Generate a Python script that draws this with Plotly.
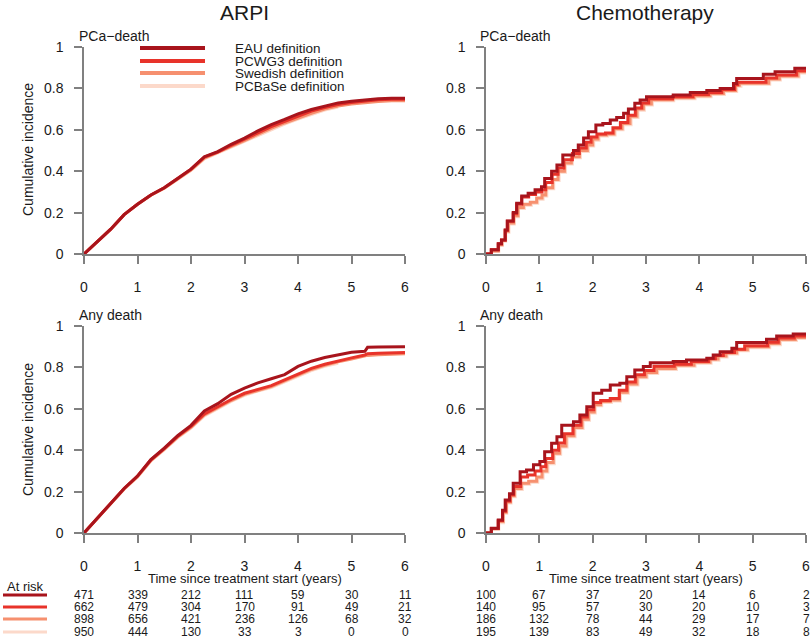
import plotly.graph_objects as go

W, H = 812, 641
FONT = "Liberation Sans"

series_names = ["EAU definition", "PCWG3 definition", "Swedish definition", "PCBaSe definition"]
series_colors = ["#A8141C", "#E8332A", "#F6906F", "#FCD9CA"]

# ---- ARPI (dense step curves, read at a grid) ----
arpi_t = [0, 0.25, 0.5, 0.75, 1, 1.25, 1.5, 1.75, 2, 2.25, 2.5, 2.75, 3, 3.25, 3.5, 3.75,
          4, 4.25, 4.5, 4.75, 5, 5.25, 5.3, 5.5, 5.75, 6]

arpi_pca_eau = [0, 0.06, 0.12, 0.19, 0.24, 0.285, 0.32, 0.365, 0.41, 0.47, 0.495, 0.53, 0.56, 0.595,
                0.625, 0.65, 0.677, 0.698, 0.715, 0.73, 0.738, 0.745, 0.746, 0.75, 0.752, 0.753]
arpi_pca_pcwg3 = [0, 0.06, 0.12, 0.19, 0.24, 0.285, 0.32, 0.365, 0.41, 0.468, 0.492, 0.525, 0.553, 0.585,
                  0.615, 0.64, 0.665, 0.69, 0.708, 0.722, 0.732, 0.74, 0.741, 0.745, 0.748, 0.748]
arpi_pca_swedish = [0, 0.06, 0.12, 0.19, 0.24, 0.284, 0.318, 0.362, 0.406, 0.463, 0.49, 0.52, 0.548, 0.578,
                    0.607, 0.633, 0.657, 0.68, 0.70, 0.715, 0.725, 0.732, 0.733, 0.737, 0.74, 0.74]
arpi_pca_pcbase = [0, 0.06, 0.12, 0.19, 0.24, 0.284, 0.318, 0.36, 0.404, 0.46, 0.488, 0.517, 0.545, 0.575,
                   0.603, 0.628, 0.652, 0.675, 0.695, 0.71]

arpi_any_eau = [0, 0.07, 0.145, 0.215, 0.275, 0.355, 0.41, 0.47, 0.52, 0.59, 0.625, 0.67, 0.70, 0.725,
                0.745, 0.765, 0.805, 0.83, 0.848, 0.862, 0.873, 0.878, 0.897, 0.898, 0.899, 0.90]
arpi_any_pcwg3 = [0, 0.07, 0.145, 0.215, 0.275, 0.353, 0.408, 0.467, 0.515, 0.575, 0.61, 0.645, 0.675, 0.695,
                  0.712, 0.74, 0.768, 0.795, 0.815, 0.832, 0.846, 0.86, 0.866, 0.868, 0.87, 0.872]
arpi_any_swedish = [0, 0.07, 0.143, 0.213, 0.272, 0.35, 0.405, 0.463, 0.51, 0.57, 0.605, 0.64, 0.67, 0.69,
                    0.707, 0.735, 0.762, 0.79, 0.81, 0.827, 0.84, 0.853, 0.858, 0.861, 0.864, 0.866]
arpi_any_pcbase = [0, 0.07, 0.142, 0.212, 0.27, 0.348, 0.402, 0.46, 0.507, 0.566, 0.6, 0.636, 0.665, 0.686,
                   0.703, 0.73, 0.757, 0.785, 0.805, 0.82]

# ---- Chemotherapy (visible steps) ----
chemo_pca_eau_t = [0, 0.1, 0.23, 0.29, 0.36, 0.4, 0.51, 0.575, 0.67, 0.79, 0.92, 1.04, 1.1, 1.23, 1.33,
                   1.44, 1.64, 1.73, 1.83, 1.92, 2.06, 2.19, 2.33, 2.45, 2.58, 2.67, 2.79, 2.89, 3.01,
                   3.51, 3.83, 4.14, 4.39, 4.64, 4.7, 5.2, 5.42, 5.79, 6]
chemo_pca_eau = [0, 0.02, 0.05, 0.068, 0.116, 0.16, 0.2, 0.245, 0.28, 0.293, 0.31, 0.325, 0.365, 0.4, 0.43,
                 0.478, 0.5, 0.527, 0.56, 0.59, 0.623, 0.63, 0.647, 0.66, 0.68, 0.7, 0.728, 0.744, 0.76,
                 0.768, 0.78, 0.79, 0.8, 0.824, 0.848, 0.868, 0.88, 0.897, 0.897]
chemo_pca_pcwg3_t = [0, 0.1, 0.23, 0.29, 0.36, 0.4, 0.51, 0.575, 0.67, 0.8, 0.93, 1.05, 1.12, 1.24, 1.35,
                     1.46, 1.62, 1.75, 1.88, 1.97, 2.08, 2.24, 2.38, 2.52, 2.66, 2.8, 2.92, 3.05,
                     3.5, 3.88, 4.17, 4.42, 4.66, 4.72, 5.25, 5.45, 5.82, 6]
chemo_pca_pcwg3 = [0, 0.02, 0.05, 0.068, 0.115, 0.158, 0.195, 0.24, 0.275, 0.288, 0.3, 0.31, 0.345, 0.385, 0.415,
                   0.455, 0.485, 0.512, 0.54, 0.565, 0.58, 0.585, 0.61, 0.635, 0.67, 0.705, 0.73, 0.75,
                   0.76, 0.77, 0.78, 0.795, 0.818, 0.83, 0.85, 0.865, 0.885, 0.888]
chemo_pca_swedish_t = [0, 0.1, 0.23, 0.3, 0.36, 0.42, 0.52, 0.6, 0.7, 0.83, 0.95, 1.05, 1.12, 1.25, 1.35,
                       1.47, 1.6, 1.75, 1.9, 2.0, 2.1, 2.26, 2.4, 2.55, 2.7, 2.83, 2.95, 3.1, 3.5, 3.9,
                       4.2, 4.45, 4.68, 4.75, 5.3, 5.5, 5.85, 6]
chemo_pca_swedish = [0, 0.015, 0.045, 0.065, 0.11, 0.15, 0.185, 0.225, 0.24, 0.25, 0.27, 0.285, 0.32, 0.36,
                     0.4, 0.44, 0.47, 0.5, 0.527, 0.555, 0.575, 0.58, 0.605, 0.63, 0.665, 0.70, 0.725, 0.745,
                     0.755, 0.765, 0.775, 0.79, 0.815, 0.825, 0.845, 0.86, 0.88, 0.883]
chemo_pca_pcbase_t = [0, 0.1, 0.24, 0.31, 0.37, 0.43, 0.53, 0.61, 0.72, 0.85, 0.97, 1.07, 1.14, 1.27, 1.37,
                      1.49, 1.62, 1.77, 1.92, 2.02, 2.12, 2.28, 2.42, 2.57, 2.72, 2.85, 2.97, 3.12, 3.52,
                      3.92, 4.22, 4.47, 4.7, 4.78, 5.32, 5.52, 5.87, 6]
chemo_pca_pcbase = [0, 0.013, 0.042, 0.062, 0.105, 0.145, 0.18, 0.22, 0.235, 0.245, 0.265, 0.28, 0.315, 0.355,
                    0.395, 0.435, 0.465, 0.495, 0.522, 0.55, 0.57, 0.575, 0.6, 0.625, 0.66, 0.695, 0.72, 0.74,
                    0.75, 0.76, 0.77, 0.785, 0.81, 0.82, 0.84, 0.855, 0.875, 0.878]

chemo_any_eau_t = [0, 0.1, 0.23, 0.31, 0.36, 0.44, 0.51, 0.64, 0.76, 0.89, 1.01, 1.1, 1.23, 1.33, 1.42,
                   1.64, 1.76, 1.89, 2.01, 2.17, 2.33, 2.51, 2.64, 2.79, 2.95, 3.08, 3.51, 3.76, 4.14,
                   4.26, 4.39, 4.61, 4.7, 5.26, 5.45, 5.76, 6]
chemo_any_eau = [0, 0.023, 0.063, 0.11, 0.16, 0.19, 0.24, 0.296, 0.304, 0.33, 0.345, 0.393, 0.433, 0.465,
                 0.52, 0.538, 0.57, 0.61, 0.675, 0.69, 0.715, 0.723, 0.755, 0.787, 0.804, 0.823, 0.828,
                 0.836, 0.844, 0.86, 0.876, 0.892, 0.92, 0.936, 0.952, 0.961, 0.965]
chemo_any_pcwg3_t = [0, 0.1, 0.23, 0.31, 0.37, 0.45, 0.52, 0.65, 0.78, 0.92, 1.03, 1.12, 1.25, 1.36, 1.47,
                     1.63, 1.78, 1.9, 2.02, 2.15, 2.33, 2.5, 2.64, 2.8, 2.97, 3.15, 3.53, 3.85, 4.17,
                     4.3, 4.45, 4.66, 4.85, 5.28, 5.48, 5.78, 6]
chemo_any_pcwg3 = [0, 0.022, 0.06, 0.105, 0.155, 0.185, 0.225, 0.27, 0.28, 0.3, 0.32, 0.36, 0.4, 0.435,
                   0.48, 0.52, 0.56, 0.595, 0.63, 0.64, 0.65, 0.69, 0.73, 0.765, 0.785, 0.805, 0.815,
                   0.828, 0.842, 0.858, 0.872, 0.888, 0.905, 0.922, 0.942, 0.952, 0.957]
chemo_any_swedish_t = [0, 0.1, 0.23, 0.32, 0.38, 0.46, 0.53, 0.66, 0.8, 0.95, 1.05, 1.14, 1.26, 1.38, 1.5,
                       1.65, 1.8, 1.92, 2.03, 2.15, 2.33, 2.5, 2.65, 2.83, 3.0, 3.2, 3.55, 3.9, 4.2,
                       4.35, 4.5, 4.7, 4.9, 5.3, 5.5, 5.8, 6]
chemo_any_swedish = [0, 0.02, 0.055, 0.1, 0.15, 0.18, 0.215, 0.24, 0.25, 0.27, 0.3, 0.34, 0.385, 0.42, 0.47,
                     0.51, 0.55, 0.585, 0.62, 0.635, 0.643, 0.68, 0.72, 0.755, 0.775, 0.795, 0.81, 0.825,
                     0.84, 0.855, 0.87, 0.885, 0.9, 0.915, 0.935, 0.945, 0.95]
chemo_any_pcbase_t = [0, 0.1, 0.24, 0.33, 0.39, 0.47, 0.55, 0.68, 0.82, 0.97, 1.07, 1.16, 1.28, 1.4, 1.52,
                      1.67, 1.82, 1.94, 2.05, 2.17, 2.35, 2.52, 2.67, 2.85, 3.02, 3.22, 3.57, 3.92, 4.22,
                      4.37, 4.52, 4.72, 4.92, 5.32, 5.52, 5.82, 6]
chemo_any_pcbase = [0, 0.018, 0.05, 0.095, 0.145, 0.175, 0.21, 0.235, 0.245, 0.265, 0.295, 0.335, 0.38, 0.415,
                    0.465, 0.505, 0.545, 0.58, 0.615, 0.63, 0.638, 0.675, 0.715, 0.75, 0.77, 0.79, 0.805,
                    0.82, 0.835, 0.85, 0.865, 0.88, 0.895, 0.91, 0.93, 0.94, 0.945]

# ---- At-risk table ----
risk_times = [0, 1, 2, 3, 4, 5, 6]
arpi_at_risk = [
    [471, 339, 212, 111, 59, 30, 11],
    [662, 479, 304, 170, 91, 49, 21],
    [898, 656, 421, 236, 126, 68, 32],
    [950, 444, 130, 33, 3, 0, 0],
]
chemo_at_risk = [
    [100, 67, 37, 20, 14, 6, 2],
    [140, 95, 57, 30, 20, 10, 3],
    [186, 132, 78, 44, 29, 17, 7],
    [195, 139, 83, 49, 32, 18, 8],
]

x_ticks = [0, 1, 2, 3, 4, 5, 6]
y_ticks = [0, 0.2, 0.4, 0.6, 0.8, 1]
y_tick_text = ["0", "0.2", "0.4", "0.6", "0.8", "1"]

# ---------------------------------------------------------------
def px(x):
    return x / W


def py(y):
    return 1 - y / H


fig = go.Figure()

panels = [
    ("", [(arpi_t, arpi_pca_eau), (arpi_t, arpi_pca_pcwg3), (arpi_t, arpi_pca_swedish),
          (arpi_t[:len(arpi_pca_pcbase)], arpi_pca_pcbase)], "linear"),
    ("2", [(chemo_pca_eau_t, chemo_pca_eau), (chemo_pca_pcwg3_t, chemo_pca_pcwg3),
           (chemo_pca_swedish_t, chemo_pca_swedish), (chemo_pca_pcbase_t, chemo_pca_pcbase)], "hv"),
    ("3", [(arpi_t, arpi_any_eau), (arpi_t, arpi_any_pcwg3), (arpi_t, arpi_any_swedish),
           (arpi_t[:len(arpi_any_pcbase)], arpi_any_pcbase)], "linear"),
    ("4", [(chemo_any_eau_t, chemo_any_eau), (chemo_any_pcwg3_t, chemo_any_pcwg3),
           (chemo_any_swedish_t, chemo_any_swedish), (chemo_any_pcbase_t, chemo_any_pcbase)], "hv"),
]

for suffix, data, shape in panels:
    for i in reversed(range(4)):
        t, v = data[i]
        fig.add_trace(go.Scatter(
            x=t, y=v, mode="lines", line=dict(color=series_colors[i], width=3, shape=shape),
            xaxis="x" + suffix, yaxis="y" + suffix, showlegend=False, hoverinfo="skip"))

# panel pixel boxes
xl = (84, 405)
xr = (486, 806)
yt = (47, 254)
yb = (326, 533)

axis_common = dict(
    showline=True, linecolor="#808080", linewidth=1.5, ticks="outside", ticklen=8,
    tickwidth=1.5, tickcolor="#808080", showgrid=False, zeroline=False, fixedrange=True,
    tickfont=dict(family=FONT, size=14, color="#1a1a1a"), automargin=False,
)

layout = dict(
    width=W, height=H, margin=dict(l=0, r=0, t=0, b=0),
    paper_bgcolor="white", plot_bgcolor="white", showlegend=False,
    font=dict(family=FONT, color="#1a1a1a"),
)

boxes = {"": (xl, yt), "2": (xr, yt), "3": (xl, yb), "4": (xr, yb)}
for suffix, (xb, yb_) in boxes.items():
    xa = dict(axis_common, domain=[px(xb[0]), px(xb[1])], range=[0, 6],
              tickvals=x_ticks, ticktext=[str(v) for v in x_ticks], ticklabelstandoff=11,
              anchor="y" + suffix)
    ya = dict(axis_common, domain=[py(yb_[1]), py(yb_[0])], range=[0, 1],
              tickvals=y_ticks, ticktext=y_tick_text, ticklabelstandoff=8,
              anchor="x" + suffix)
    layout["xaxis" + suffix] = xa
    layout["yaxis" + suffix] = ya

fig.update_layout(**layout)

ann = []
shapes = []


def text(x, y, s, size, xanchor="center", yanchor="middle", angle=0):
    ann.append(dict(x=px(x), y=py(y), xref="paper", yref="paper", text=s, showarrow=False,
                    xanchor=xanchor, yanchor=yanchor, textangle=angle,
                    font=dict(family=FONT, size=size, color="#1a1a1a")))


# column titles
text(244, 13, "ARPI", 21)
text(645, 13, "Chemotherapy", 21)
# panel labels
text(77, 36, "PCa\u2212death", 14, xanchor="left")
text(478, 36, "PCa\u2212death", 14, xanchor="left")
text(77, 315, "Any death", 14, xanchor="left")
text(478, 315, "Any death", 14, xanchor="left")
# y titles
text(28, 150, "Cumulative incidence", 14, angle=-90)
text(28, 430, "Cumulative incidence", 14, angle=-90)
# x titles
text(245, 578, "Time since treatment start (years)", 13)
text(646, 578, "Time since treatment start (years)", 13)

# legend (top-left panel)
leg_y = [48, 61, 73, 86]
for i, name in enumerate(series_names):
    shapes.append(dict(type="line", xref="paper", yref="paper", x0=px(140), x1=px(205),
                       y0=py(leg_y[i]), y1=py(leg_y[i]),
                       line=dict(color=series_colors[i], width=4)))
    text(233, leg_y[i], name, 13.5, xanchor="left")

# at-risk table
row_y = [595, 607, 619, 632]
text(25, 586, "At risk", 13)
for i in range(4):
    shapes.append(dict(type="line", xref="paper", yref="paper", x0=px(3), x1=px(47),
                       y0=py(row_y[i]), y1=py(row_y[i]),
                       line=dict(color=series_colors[i], width=3)))
for xref, table in (("x3", arpi_at_risk), ("x4", chemo_at_risk)):
    for i, row in enumerate(table):
        for j, n in enumerate(row):
            ann.append(dict(x=risk_times[j], y=py(row_y[i]), xref=xref, yref="paper",
                            text=str(n), showarrow=False, xanchor="center", yanchor="middle",
                            font=dict(family=FONT, size=12, color="#1a1a1a")))

fig.update_layout(annotations=ann, shapes=shapes)
fig.write_html("out.html", post_script="document.body.style.margin='0';",
               config={"displayModeBar": False})
